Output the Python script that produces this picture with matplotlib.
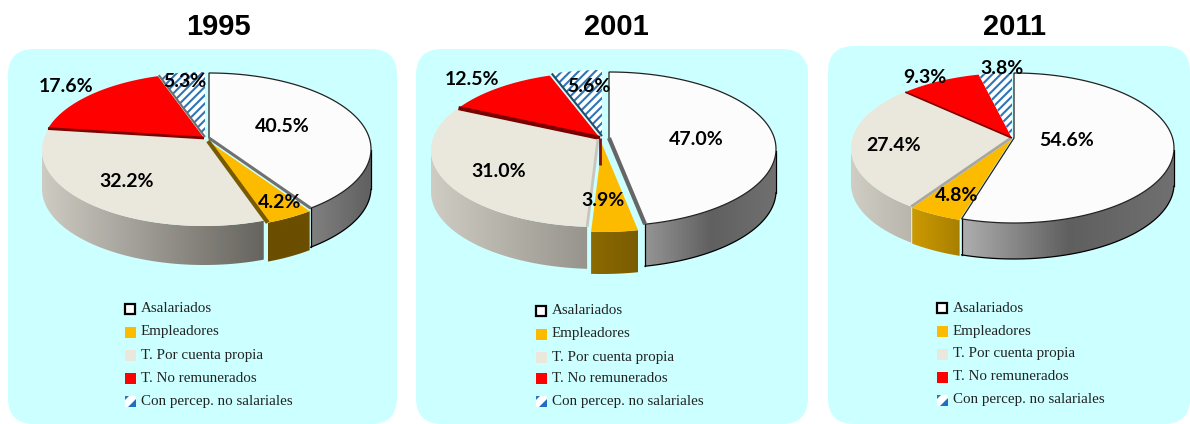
import numpy as np
import matplotlib
matplotlib.use('Agg')
import matplotlib.pyplot as plt
from matplotlib.patches import FancyBboxPatch, Polygon, Rectangle
from matplotlib.colors import LinearSegmentedColormap

years = ['1995', '2001', '2011']
categories = ['Asalariados', 'Empleadores', 'T. Por cuenta propia', 'T. No remunerados', 'Con percep. no salariales']
values_1995 = [40.5, 4.2, 32.2, 17.6, 5.3]
values_2001 = [47.0, 3.9, 31.0, 12.5, 5.6]
values_2011 = [54.6, 4.8, 27.4, 9.3, 3.8]
all_values = [values_1995, values_2001, values_2011]

top_colors = ['#fcfcfc', '#fdbb00', '#eae8dd', '#ff0000', '#ffffff']
blue = '#2e75b6'

# pie geometry in pixels
centers = [(207, 149), (606, 150), (1012, 148)]
radii = [(162, 76), (167, 77), (160, 75)]
tilt = [0.145, 0.143, 0.133]
depths = [39, 42, 36]
offsets = [
    [(2, 0), (1, 3), (-3, 1), (-3, 0), (-2, -1)],
    [(3, -1), (-4, 5), (-8, 0), (-6, -1), (-4, -3)],
    [(2, 0), (0, 1), (-1, 0), (0, 0), (0, 0)],
]
side_colors = [
    [['#808080', '#606060'], ['#6b4e00', '#6b4e00'], ['#cdcbc2', '#66645e'], ['#888888', '#888888'], ['#888888', '#888888']],
    [['#959595', '#606060', '#707070'], ['#8c6a00', '#7a5c00'], ['#cfccc3', '#96948c'], ['#888888', '#888888'], ['#888888', '#888888']],
    [['#aeaeae', '#5f5f5f', '#707070'], ['#cc9a00', '#a87f00'], ['#d0cdc4', '#b8b5ac'], ['#888888', '#888888'], ['#888888', '#888888']],
]
# cut edges: (slice, which boundary, colour, width)
cut_edges = [
    [(0, 1, '#707070', 2.2), (1, 1, '#7a5a00', 3.0), (3, 0, '#800000', 2.0), (4, 0, '#707070', 1.5)],
    [(0, 1, '#666666', 3.0), (3, 0, '#7a0000', 3.0), (4, 0, '#244a66', 1.5), (2, 0, '#c8c6bc', 2.0)],
    [(2, 0, '#a8a69e', 2.0), (3, 0, '#800000', 1.2)],
]
# dark sliver under the red apex, only seen in 2001
red_drop = [0, 27, 0]

panels = [(8, 49, 389, 375), (416, 49, 392, 375), (828, 46, 362, 378)]
title_x = [218, 616, 1015]
title_y = 27
label_pos = [
    [(282, 126.5), (280, 202.5), (127, 181.5), (66, 86.5), (185, 81.5)],
    [(696, 139.5), (603, 200.5), (499, 171.5), (472, 79.5), (589, 86.5)],
    [(1067, 140.5), (957, 195.5), (894, 145.5), (925, 77.5), (1002, 68.5)],
]
legend_x = [125, 536, 937]
legend_y = [
    [308, 331, 354, 377, 400],
    [310, 333, 356, 377, 400],
    [307, 330, 353, 376, 399],
]

plt.rcParams['hatch.linewidth'] = 1.5

fig = plt.figure(figsize=(11.9, 4.24), dpi=100)
ax = fig.add_axes([0, 0, 1, 1])


def rim(t, cx, cy, rx, ry, a):
    # perspective: circle stays an ellipse, its centre moves up to the apex
    den = 1 + a * np.cos(t)
    px = np.sin(t) * np.sqrt(1 - a * a) / den
    py = (np.cos(t) + a) / den
    return cx + rx * px, cy - ry * py


for i in range(3):
    x, y, w, h = panels[i]
    ax.add_patch(FancyBboxPatch((x, y), w, h, boxstyle='round,pad=0,rounding_size=26',
                                fc='#ccffff', ec='none', zorder=1))
    ax.text(title_x[i], title_y, years[i], family='Liberation Sans', weight='bold',
            fontsize=21, ha='center', va='center', color='black', zorder=10)

    vals = np.array(all_values[i])
    edges = np.concatenate([[0], np.cumsum(vals / vals.sum())]) * 2 * np.pi
    cx, cy = centers[i]
    rx, ry = radii[i]
    a = tilt[i]

    # sides first, then the top faces
    order = sorted(range(5), key=lambda k: abs((edges[k] + edges[k + 1]) / 2 - np.pi), reverse=True)
    for k in order:
        dx, dy = offsets[i][k]
        t = np.linspace(edges[k], edges[k + 1], 120)
        sx, sy = rim(t, cx + dx, cy + dy, rx, ry, a)
        front = sy >= cy + dy
        if front.sum() < 2:
            continue
        sx, sy = sx[front], sy[front]
        pts = np.vstack([np.column_stack([sx, sy]),
                         np.column_stack([sx, sy + depths[i]])[::-1]])
        poly = Polygon(pts, closed=True, fc='none', ec='none', zorder=2)
        ax.add_patch(poly)
        cmap = LinearSegmentedColormap.from_list('s', side_colors[i][k])
        im = ax.imshow(np.linspace(0, 1, 128).reshape(1, -1), cmap=cmap, aspect='auto',
                       extent=(sx.min(), sx.max(), sy.max() + depths[i], sy.min()),
                       interpolation='bilinear', zorder=2)
        im.set_clip_path(poly)
        if k == 0:
            ax.plot(sx, sy + depths[i], color='black', lw=0.9, zorder=3)
            ax.plot([sx[0], sx[0]], [sy[0], sy[0] + depths[i]], color='black', lw=0.9, zorder=3)
            ax.plot([sx[-1], sx[-1]], [sy[-1], sy[-1] + depths[i]], color='black', lw=0.9, zorder=3)

    apex_y = cy - ry * a
    for k in range(5):
        dx, dy = offsets[i][k]
        t = np.linspace(edges[k], edges[k + 1], 120)
        sx, sy = rim(t, cx + dx, cy + dy, rx, ry, a)
        pts = np.vstack([[cx + dx, apex_y + dy], np.column_stack([sx, sy])])
        ax.add_patch(Polygon(pts, closed=True, fc=top_colors[k], ec='none', zorder=4))
        if k == 4:
            ax.add_patch(Polygon(pts, closed=True, fc='none', ec=blue, hatch='////', lw=0, zorder=4))
        if k == 0:
            ax.add_patch(Polygon(pts, closed=True, fc='none', ec='#222222', lw=0.9, zorder=5))

    for k, side, col, lw in cut_edges[i]:
        dx, dy = offsets[i][k]
        ex, ey = rim(edges[k + side], cx + dx, cy + dy, rx, ry, a)
        ax.plot([cx + dx, ex], [apex_y + dy, ey], color=col, lw=lw, solid_capstyle='butt', zorder=6)

    if red_drop[i] > 0:
        dx, dy = offsets[i][3]
        ax.plot([cx + dx, cx + dx], [apex_y + dy, apex_y + dy + red_drop[i]], color='#7a1020', lw=2,
                solid_capstyle='butt', zorder=6)

    for k in range(5):
        lx, ly = label_pos[i][k]
        ax.text(lx, ly, '%.1f%%' % all_values[i][k], family='Lato', weight='bold', fontsize=14,
                ha='center', va='center', color='black', zorder=9)

    # legend
    mx = legend_x[i]
    for k in range(5):
        my = legend_y[i][k] + 1
        if k == 0:
            ax.add_patch(Rectangle((mx, my - 5), 10, 10, fc='white', ec='black', lw=1.6, zorder=7))
        elif k == 4:
            ax.add_patch(Rectangle((mx, my - 5), 11, 11, fc='white', ec='none', zorder=7))
            ax.add_patch(Polygon([(mx, my - 5), (mx + 4, my - 5), (mx, my - 1)], fc=blue, ec='none', zorder=7))
            ax.add_patch(Polygon([(mx + 11, my + 6), (mx + 3, my + 6), (mx + 11, my - 2)], fc='#1f6fc0', ec='none', zorder=7))
        else:
            ax.add_patch(Rectangle((mx, my - 5), 11, 11, fc=top_colors[k], ec='none', zorder=7))
        ax.text(mx + 16, my, categories[k], family='Liberation Serif', fontsize=10.8,
                ha='left', va='center', color='#222222', zorder=7)

ax.set_xlim(0, 1190)
ax.set_ylim(424, 0)
ax.axis('off')

plt.savefig('out.png', dpi=100, facecolor='white')
